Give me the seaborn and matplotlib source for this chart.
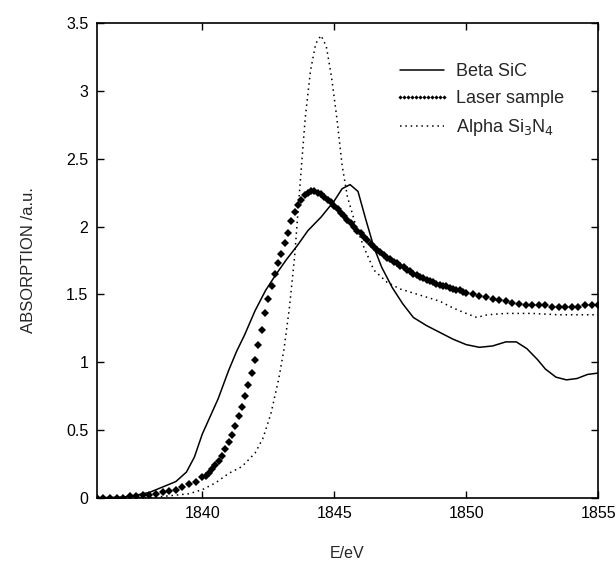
import numpy as np
import pandas as pd
import matplotlib.pyplot as plt
import seaborn as sns

# ---------------------------------------------------------------- data

beta_x = [1836.0, 1837.0, 1837.5, 1838.0, 1838.5, 1839.0, 1839.4, 1839.7, 1840.0, 1840.3,
          1840.6, 1841.0, 1841.3, 1841.6, 1842.0, 1842.4, 1842.8, 1843.2, 1843.6, 1844.0,
          1844.5, 1845.0, 1845.3, 1845.6, 1845.9, 1846.2, 1846.5, 1846.8, 1847.2, 1847.6,
          1848.0, 1848.5, 1849.0, 1849.5, 1850.0, 1850.5, 1851.0, 1851.5, 1851.9, 1852.3,
          1852.7, 1853.0, 1853.4, 1853.8, 1854.2, 1854.6, 1855.0]
beta_y = [0.0, 0.005, 0.02, 0.04, 0.08, 0.12, 0.19, 0.30, 0.47, 0.60,
          0.73, 0.94, 1.08, 1.20, 1.38, 1.53, 1.65, 1.76, 1.86, 1.97,
          2.07, 2.19, 2.28, 2.31, 2.26, 2.05, 1.85, 1.70, 1.55, 1.43,
          1.33, 1.27, 1.22, 1.17, 1.13, 1.11, 1.12, 1.15, 1.15, 1.10,
          1.02, 0.95, 0.89, 0.87, 0.88, 0.91, 0.92]

# laser sample: coarse steps before the edge and in the tail, fine steps on the edge and peak
laser_x = [1836.00, 1836.25, 1836.50, 1836.75, 1837.00, 1837.25, 1837.50, 1837.75,
           1838.00, 1838.25, 1838.50, 1838.75, 1839.00, 1839.25, 1839.50, 1839.75,
           1840.0, 1840.125, 1840.25, 1840.375, 1840.5, 1840.625, 1840.75, 1840.875,
           1841.0, 1841.125, 1841.25, 1841.375, 1841.5, 1841.625, 1841.75, 1841.875,
           1842.0, 1842.125, 1842.25, 1842.375, 1842.5, 1842.625, 1842.75, 1842.875,
           1843.0, 1843.125, 1843.25, 1843.375, 1843.5,
           1843.625, 1843.75, 1843.875, 1844.0, 1844.125, 1844.25, 1844.375, 1844.5,
           1844.625, 1844.75, 1844.875, 1845.0, 1845.125, 1845.25, 1845.375, 1845.5,
           1845.625, 1845.75, 1845.875, 1846.0, 1846.125, 1846.25, 1846.375, 1846.5,
           1846.625, 1846.75, 1846.875, 1847.0, 1847.125, 1847.25, 1847.375, 1847.5,
           1847.625, 1847.75, 1847.875, 1848.0, 1848.125, 1848.25, 1848.375, 1848.5,
           1848.625, 1848.75, 1848.875, 1849.0, 1849.125, 1849.25, 1849.375, 1849.5,
           1849.625, 1849.75, 1849.875, 1850.0,
           1850.25, 1850.50, 1850.75, 1851.00, 1851.25, 1851.50, 1851.75,
           1852.00, 1852.25, 1852.50, 1852.75, 1853.00, 1853.25, 1853.50, 1853.75,
           1854.00, 1854.25, 1854.50, 1854.75, 1855.00]
laser_y = [0.00, 0.00, 0.00, 0.00, 0.00, 0.01, 0.01, 0.02,
           0.02, 0.03, 0.04, 0.05, 0.06, 0.08, 0.10, 0.12,
           0.15, 0.16, 0.18, 0.21, 0.24, 0.27, 0.31, 0.36,
           0.41, 0.46, 0.53, 0.60, 0.67, 0.75, 0.83, 0.92,
           1.02, 1.13, 1.24, 1.36, 1.47, 1.56, 1.65, 1.73,
           1.80, 1.88, 1.95, 2.04, 2.11,
           2.16, 2.20, 2.23, 2.25, 2.26, 2.26, 2.25, 2.24,
           2.22, 2.20, 2.18, 2.15, 2.13, 2.10, 2.08, 2.05,
           2.03, 2.00, 1.97, 1.95, 1.92, 1.90, 1.87, 1.85,
           1.83, 1.81, 1.79, 1.77, 1.76, 1.74, 1.73, 1.71,
           1.70, 1.68, 1.67, 1.65, 1.64, 1.63, 1.62, 1.61,
           1.60, 1.59, 1.58, 1.57, 1.565, 1.56, 1.55, 1.54,
           1.535, 1.53, 1.52, 1.51,
           1.50, 1.49, 1.48, 1.47, 1.46, 1.45, 1.44,
           1.43, 1.42, 1.42, 1.42, 1.42, 1.41, 1.41, 1.41,
           1.41, 1.41, 1.42, 1.42, 1.42]

alpha_x = [1836.0, 1838.0, 1838.5, 1839.0, 1839.5, 1840.0, 1840.5, 1841.0, 1841.5, 1842.0,
           1842.3, 1842.6, 1842.9, 1843.1, 1843.3, 1843.5, 1843.7, 1843.9, 1844.1, 1844.3,
           1844.5, 1844.7, 1844.9, 1845.1, 1845.3, 1845.5, 1845.8, 1846.1, 1846.5, 1847.0,
           1847.5, 1848.0, 1848.5, 1849.0, 1849.5, 1850.0, 1850.4, 1850.8, 1851.5, 1852.5,
           1853.5, 1854.5, 1855.0]
alpha_y = [0.00, 0.00, 0.01, 0.02, 0.03, 0.06, 0.11, 0.18, 0.23, 0.33,
           0.44, 0.62, 0.88, 1.10, 1.40, 1.78, 2.30, 2.80, 3.15, 3.35,
           3.41, 3.33, 3.10, 2.80, 2.45, 2.22, 2.02, 1.86, 1.68, 1.59,
           1.54, 1.51, 1.48, 1.45, 1.40, 1.36, 1.33, 1.35, 1.36, 1.36,
           1.35, 1.35, 1.35]

x_ticks = [1840, 1845, 1850, 1855]
y_ticks = [0, 0.5, 1, 1.5, 2, 2.5, 3, 3.5]
y_tick_labels = ["0", "0.5", "1", "1.5", "2", "2.5", "3", "3.5"]

# ---------------------------------------------------------------- plot

sns.set_style("ticks")
plt.rcParams['font.family'] = ['Liberation Sans', 'DejaVu Sans']
fs = 11.5

fig = plt.figure(figsize=(6.16, 5.67), dpi=100)
ax = fig.add_axes([0.157, 0.122, 0.814, 0.837])

beta_df = pd.DataFrame({"E": beta_x, "A": beta_y})
laser_df = pd.DataFrame({"E": laser_x, "A": laser_y})
alpha_df = pd.DataFrame({"E": alpha_x, "A": alpha_y})

sns.lineplot(data=beta_df, x="E", y="A", ax=ax, color="black", lw=1.1,
             label="Beta SiC")
sns.lineplot(data=laser_df, x="E", y="A", ax=ax, color="black", lw=0,
             marker="D", markersize=3.6, markeredgewidth=0, label="Laser sample")
sns.lineplot(data=alpha_df, x="E", y="A", ax=ax, color="black", lw=1.1,
             linestyle=(0, (1, 2.5)), label="Alpha Si$_3$N$_4$")

ax.set_xlim(1836, 1855)
ax.set_ylim(0, 3.5)
ax.set_xticks(x_ticks)
ax.set_xticklabels([str(t) for t in x_ticks])
ax.set_yticks(y_ticks)
ax.set_yticklabels(y_tick_labels)
ax.tick_params(direction="in", top=True, right=True, length=5, width=1,
               labelsize=fs, pad=6, colors="black")
for s in ax.spines.values():
    s.set_linewidth(1.2)
    s.set_color("black")

ax.set_xlabel("E/eV", fontsize=fs, labelpad=18)
ax.set_ylabel("ABSORPTION /a.u.", fontsize=12, labelpad=22)

leg = ax.legend(loc="upper right", frameon=False, fontsize=13, handlelength=3.0,
                numpoints=12, bbox_to_anchor=(0.965, 0.95), labelspacing=0.55,
                handletextpad=0.4, markerscale=0.6)

plt.savefig("out.png", dpi=100)
